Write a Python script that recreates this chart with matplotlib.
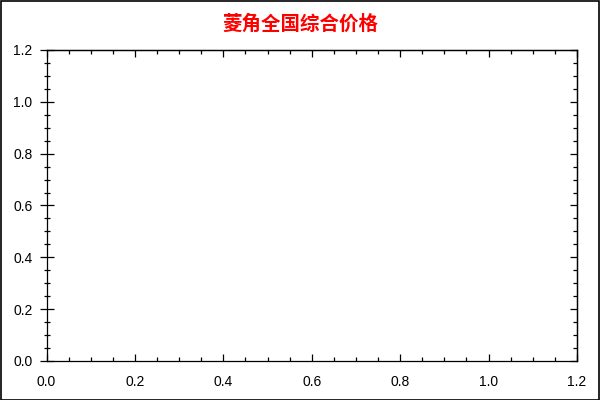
import matplotlib
matplotlib.use("Agg")
import matplotlib.pyplot as plt
from matplotlib.ticker import MultipleLocator

title = "菱角全国综合价格"
x_limits = [0.0, 1.2]
y_limits = [0.0, 1.2]
major_step = 0.2
minor_step = 0.05

plt.rcParams['font.family'] = ['Liberation Sans', 'Noto Sans CJK SC', 'DejaVu Sans']

fig = plt.figure(figsize=(6, 4), dpi=100)
ax = fig.add_axes([0.0775, 0.0975, 0.884, 0.7775])

ax.set_xlim(x_limits)
ax.set_ylim(y_limits)
for axis in (ax.xaxis, ax.yaxis):
    axis.set_major_locator(MultipleLocator(major_step))
    axis.set_minor_locator(MultipleLocator(minor_step))
    axis.set_major_formatter(plt.FormatStrFormatter('%.1f'))

for s in ax.spines.values():
    s.set_linewidth(0.9)

ax.tick_params(axis='y', which='major', direction='inout', length=10, width=0.9,
               labelsize=10, pad=5)
ax.tick_params(axis='y', which='minor', direction='inout', length=5, width=0.9)
ax.tick_params(axis='x', which='major', direction='in', length=5, width=0.9,
               labelsize=10, pad=10)
ax.tick_params(axis='x', which='minor', direction='in', length=3, width=0.9)

# ticks on top and right, inside only, no labels
top = ax.secondary_xaxis('top')
right = ax.secondary_yaxis('right')
for sec, axis in ((top, top.xaxis), (right, right.yaxis)):
    axis.set_major_locator(MultipleLocator(major_step))
    axis.set_minor_locator(MultipleLocator(minor_step))
    sec.tick_params(which='major', direction='in', length=5, width=0.9,
                    labelleft=False, labelright=False, labeltop=False, labelbottom=False)
    sec.tick_params(which='minor', direction='in', length=3, width=0.9)
    for s in sec.spines.values():
        s.set_linewidth(0.9)

fig.text(0.5, 0.94, title, ha='center', va='center', color='#ff0000',
         fontsize=14, fontweight='bold',
         family=['Noto Sans CJK SC', 'DejaVu Sans'])

# outer frame of the figure
fig.patches.append(plt.Rectangle((0.001, 0.001), 0.997, 0.996, transform=fig.transFigure,
                                 fill=False, edgecolor='black', linewidth=1.2))

fig.savefig('out.png', dpi=100)
